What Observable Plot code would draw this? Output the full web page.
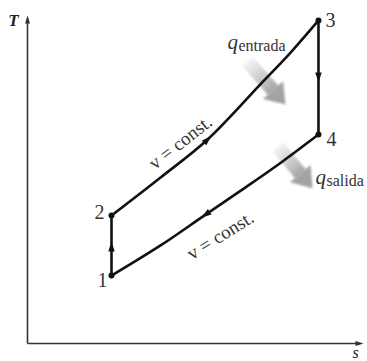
<!DOCTYPE html>
<html><head><meta charset="utf-8">
<script src="https://cdn.jsdelivr.net/npm/d3@7"></script>
<script src="https://cdn.jsdelivr.net/npm/@observablehq/plot@0.6"></script>
<style>body{margin:0;background:#fff}svg{display:block}</style>
</head><body><div id="chart"></div>
<script>
// ---- data (s, T in arbitrary units) ----
const stateNames = ["1", "2", "3", "4"];
const stateS = [2.50, 2.50, 8.66, 8.66];
const stateT = [2.07, 3.90, 9.85, 6.37];
// 2 -> 3 : v = const. (heat added)
const inS = [2.50, 3.96, 5.36, 6.93, 7.83, 8.66];
const inT = [3.90, 5.06, 6.22, 7.90, 8.87, 9.85];
// 4 -> 1 : v = const. (heat rejected)
const outS = [8.66, 7.59, 6.49, 5.30, 3.96, 2.50];
const outT = [6.37, 5.55, 4.76, 3.93, 2.99, 2.07];
// direction arrows on the cycle (position and a point just ahead)
const flowS = [5.36, 8.66, 5.30, 2.50];
const flowT = [6.22, 8.11, 3.93, 2.96];
const flowAheadS = [5.50, 8.66, 5.16, 2.50];
const flowAheadT = [6.36, 7.90, 3.83, 3.10];
// heat arrows
const heatNames = ["entrada", "salida"];
const heatFromS = [6.55, 7.45];
const heatFromT = [8.60, 6.00];
const heatToS = [7.68, 8.48];
const heatToT = [7.29, 4.73];
const heatLabelS = [5.95, 8.57];
const heatLabelT = [8.99, 4.85];
// "v = const." annotations
const annText = ["v = const.", "v = const."];
const annS = [4.55, 5.74];
const annT = [6.13, 3.29];
const annAngle = [-38, -32];
const axisNames = ["T", "s"];

// ---- layout ----
const W = 367, H = 361, ML = 27, MR = 4, MT = 15, MB = 18;
const sx = d3.scaleLinear([0, 10], [ML, W - MR]);
const sy = d3.scaleLinear([0, 10], [H - MB, MT]);
const serif = "Liberation Serif, Times New Roman, serif";

function headSymbol(L, w, tipAtOrigin) {
  return {draw(ctx) {
    const top = tipAtOrigin ? 0 : -L / 2;
    ctx.moveTo(0, top);
    ctx.lineTo(w / 2, top + L);
    ctx.lineTo(-w / 2, top + L);
    ctx.closePath();
  }};
}
const angleOf = (s0, t0, s1, t1) => Math.atan2(sx(s1) - sx(s0), -(sy(t1) - sy(t0))) * 180 / Math.PI;

const inLine = inS.map((s, i) => ({s, T: inT[i]}));
const outLine = outS.map((s, i) => ({s, T: outT[i]}));
const states = stateNames.map((n, i) => ({n, s: stateS[i], T: stateT[i]}));
const flows = flowS.map((s, i) => ({s, T: flowT[i], a: angleOf(s, flowT[i], flowAheadS[i], flowAheadT[i])}));

const headL = 19, headW = 27, shaftW = 14;
const placeholder = ["#a0a0a1", "#a0a0a2"];
const heats = heatNames.map((n, i) => {
  const x0 = sx(heatFromS[i]), y0 = sy(heatFromT[i]), x1 = sx(heatToS[i]), y1 = sy(heatToT[i]);
  const len = Math.hypot(x1 - x0, y1 - y0);
  const bx = x1 - (x1 - x0) / len * (headL - 1), by = y1 - (y1 - y0) / len * (headL - 1);
  return {n, i, x0, y0, x1, y1, bx, by, s0: heatFromS[i], T0: heatFromT[i], s1: heatToS[i], T1: heatToT[i],
    bs: sx.invert(bx), bT: sy.invert(by), a: angleOf(heatFromS[i], heatFromT[i], heatToS[i], heatToT[i])};
});

const marks = [
  // axes
  Plot.link([{}], {x1: 0, y1: 0, x2: 0, y2: 9.9, stroke: "#333", strokeWidth: 1.6}),
  Plot.link([{}], {x1: 0, y1: 0, x2: 9.9, y2: 0, stroke: "#333", strokeWidth: 1.6}),
  Plot.dot([{x: 0, y: 10, a: 0}, {x: 10, y: 0, a: 90}], {x: "x", y: "y", rotate: "a", symbol: headSymbol(8, 5, true), fill: "#333", stroke: "none"}),
  Plot.text([axisNames[0]], {x: 0, y: 10, text: d => d, dx: -14, dy: 5, fontFamily: serif, fontStyle: "italic", fontWeight: "bold", fontSize: 17, fill: "#222"}),
  Plot.text([axisNames[1]], {x: 10, y: 0, text: d => d, dx: -8, dy: 9, fontFamily: serif, fontStyle: "italic", fontSize: 16, fill: "#222"}),
];
// heat arrows (shaft gets a gradient after render, head solid grey)
heats.forEach(h => {
  marks.push(Plot.link([h], {x1: "s0", y1: "T0", x2: "bs", y2: "bT", stroke: placeholder[h.i], strokeWidth: shaftW, strokeLinecap: "butt"}));
  marks.push(Plot.dot([h], {x: "s1", y: "T1", rotate: "a", symbol: headSymbol(headL, headW, true), fill: "#a3a3a3", stroke: "none"}));
});
marks.push(
  Plot.line(inLine, {x: "s", y: "T", curve: "catmull-rom", stroke: "#111", strokeWidth: 2.6}),
  Plot.line(outLine, {x: "s", y: "T", curve: "catmull-rom", stroke: "#111", strokeWidth: 2.6}),
  Plot.line([states[0], states[1]], {x: "s", y: "T", stroke: "#111", strokeWidth: 2.6}),
  Plot.line([states[2], states[3]], {x: "s", y: "T", stroke: "#111", strokeWidth: 2.6}),
  Plot.dot(states, {x: "s", y: "T", r: 3, fill: "#111", stroke: "none"}),
  Plot.dot(flows, {x: "s", y: "T", rotate: "a", symbol: headSymbol(10, 6.5, false), fill: "#111", stroke: "none"})
);
// state labels
const off = {"1": [-9, 5], "2": [-12, -3], "3": [12, 0], "4": [13, 5]};
states.forEach(d => marks.push(Plot.text([d], {x: "s", y: "T", text: "n", dx: off[d.n][0], dy: off[d.n][1],
  fontFamily: serif, fontSize: 20, fill: "#333"})));
// heat labels: q + subscript
heatNames.forEach((n, i) => {
  marks.push(Plot.text([n], {x: heatLabelS[i], y: heatLabelT[i], text: () => "q", textAnchor: "start", lineAnchor: "bottom",
    fontFamily: serif, fontStyle: "italic", fontSize: 21, fill: "#333"}));
  marks.push(Plot.text([n], {x: heatLabelS[i], y: heatLabelT[i], text: d => d, dx: 11, dy: 2, textAnchor: "start", lineAnchor: "bottom",
    fontFamily: serif, fontSize: 16, fill: "#333"}));
});
// v = const.
annText.forEach((t, i) => marks.push(Plot.text([t], {x: annS[i], y: annT[i], text: d => d, rotate: annAngle[i],
  fontFamily: serif, fontSize: 19, fill: "#333"})));

const svg = Plot.plot({
  width: W, height: H, marginLeft: ML, marginRight: MR, marginTop: MT, marginBottom: MB,
  x: {domain: [0, 10], axis: null}, y: {domain: [0, 10], axis: null},
  style: {background: "#fff", overflow: "visible"},
  marks
});
// gradients + soft blur for the heat arrows
const ns = "http://www.w3.org/2000/svg";
const defs = document.createElementNS(ns, "defs");
heats.forEach(h => {
  const g = document.createElementNS(ns, "linearGradient");
  g.setAttribute("id", `qg${h.i}`);
  g.setAttribute("gradientUnits", "userSpaceOnUse");
  g.setAttribute("x1", h.x0); g.setAttribute("y1", h.y0);
  g.setAttribute("x2", h.bx); g.setAttribute("y2", h.by);
  [[0, "#f4f4f4"], [0.5, "#cfcfcf"], [1, "#a6a6a6"]].forEach(([o, c]) => {
    const st = document.createElementNS(ns, "stop");
    st.setAttribute("offset", o); st.setAttribute("stop-color", c); g.appendChild(st);
  });
  defs.appendChild(g);
});
const f = document.createElementNS(ns, "filter");
f.setAttribute("id", "soft"); f.setAttribute("x", "-30%"); f.setAttribute("y", "-30%"); f.setAttribute("width", "160%"); f.setAttribute("height", "160%");
const gb = document.createElementNS(ns, "feGaussianBlur"); gb.setAttribute("stdDeviation", "1.1");
f.appendChild(gb); defs.appendChild(f);
svg.insertBefore(defs, svg.firstChild);
placeholder.forEach((c, i) => {
  svg.querySelectorAll(`[stroke="${c}"]`).forEach(el => { el.setAttribute("stroke", `url(#qg${i})`); el.setAttribute("filter", "url(#soft)"); });
});
svg.querySelectorAll('[fill="#a3a3a3"]').forEach(el => el.setAttribute("filter", "url(#soft)"));
document.getElementById("chart").appendChild(svg);
</script>
</body></html>
